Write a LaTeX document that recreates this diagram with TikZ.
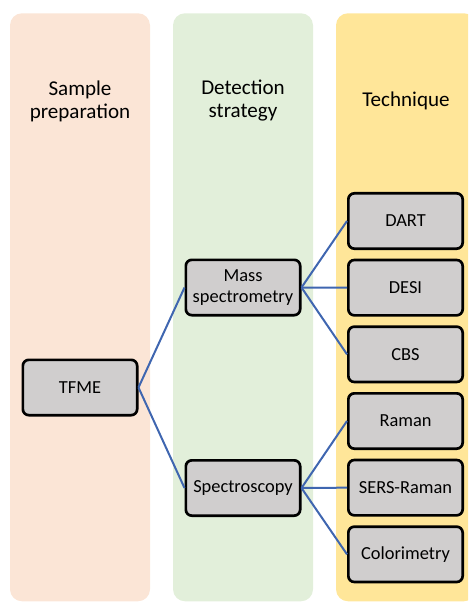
\documentclass[tikz,border=0pt]{standalone}
\usepackage{fontspec}
\setmainfont{Carlito}
\usetikzlibrary{positioning}
\definecolor{peach}{HTML}{FBE5D6}
\definecolor{sage}{HTML}{E2EFDA}
\definecolor{sand}{HTML}{FFE699}
\definecolor{boxgray}{HTML}{D0CECE}
\definecolor{linkblue}{HTML}{3F66B0}

\begin{document}
\begin{tikzpicture}[x=0.75pt, y=-0.75pt]

    \useasboundingbox (0,0) rectangle (468,602); % same size as the original figure
    \clip (0,0) rectangle (468,602);

    % three coloured columns, the last one runs off the right edge
    \begin{scope}[every node/.style={rounded corners=9pt, minimum width=105pt, minimum height=441pt,
                                     anchor=north, inner sep=0pt}]
        \node (prep)  [fill=peach] at (80,13)  {};
        \node (strat) [fill=sage]  at (243,13) {};
        \node (tech)  [fill=sand]  at (406,13) {};
    \end{scope}

    % column headings
    \begin{scope}[every node/.style={align=center, font=\fontsize{15.8}{17.25}\selectfont}]
        \node (prephead)  at (prep.north |- 0,101)  {Sample\\preparation};
        \node (strathead) at (strat.north |- 0,101) {Detection\\strategy};
        \node (techhead)  at (tech.north |- 0,101)  {Technique};
    \end{scope}

    % grey boxes, technique boxes stacked one below the other
    \begin{scope}[every node/.style={draw, fill=boxgray, line width=2pt, rounded corners=4.5pt,
                                     minimum width=85.75pt, minimum height=41.5pt, inner sep=1pt,
                                     align=center, font=\fontsize{13.8}{16}\selectfont},
                  node distance=6.5pt]

        \node (tfme) at (80,387.5)  {TFME};
        \node (mass) at (243,287.5) {Mass\\spectrometry};
        \node (spec) at (243,488)   {Spectroscopy};

        \node (dart) at (405.5,221) {DART};
        \node (desi) [below=of dart] {DESI};
        \node (cbs)  [below=of desi] {CBS};
        \node (raman) [below=of cbs] {Raman};
        \node (sers) [below=of raman] {SERS-Raman};
        \node (colo) [below=of sers] {Colorimetry};

    \end{scope}

    % blue links between the levels
    \begin{scope}[every path/.style={draw=linkblue, line width=1.5pt}]
        \foreach \i in {mass, spec} \draw (tfme.east) -- (\i.west);
        \foreach \i in {dart, desi, cbs} \draw (mass.east) -- (\i.west);
        \foreach \i in {raman, sers, colo} \draw (spec.east) -- (\i.west);
    \end{scope}

\end{tikzpicture}
\end{document}
